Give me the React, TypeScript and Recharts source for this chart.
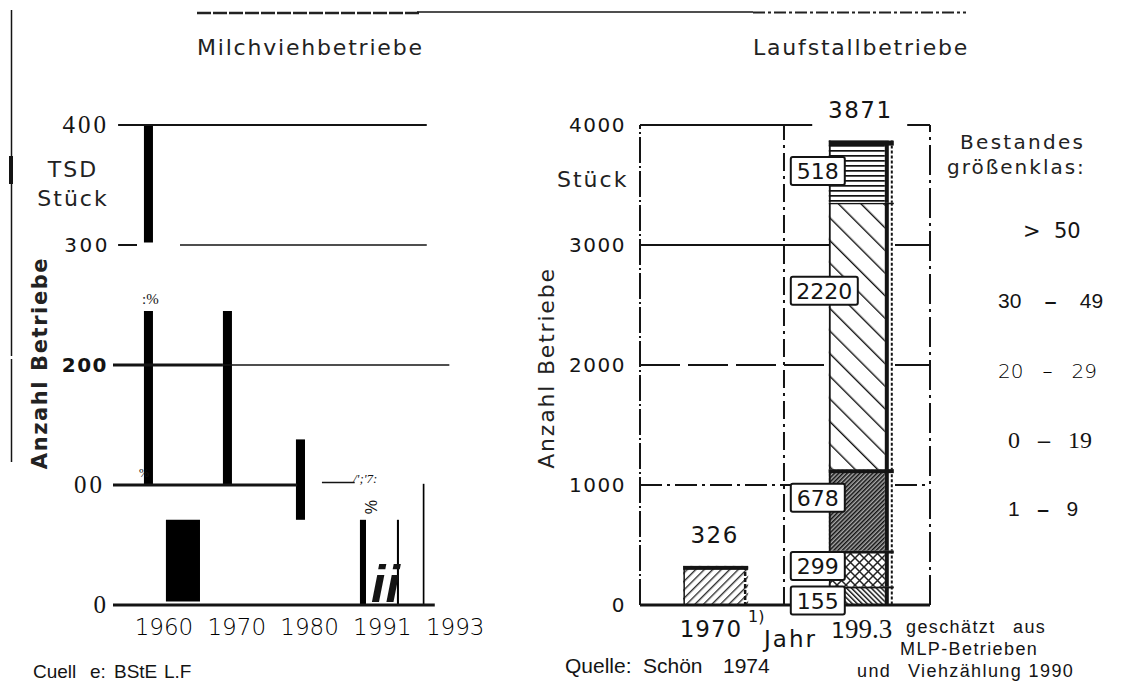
import React from 'react';
import { ComposedChart, Bar, XAxis, YAxis, ReferenceLine, ReferenceArea, LabelList } from 'recharts';

const W = 1129;
const H = 688;

// ---------------- Left chart: Milchviehbetriebe ----------------
const leftYTicks = [0, 100, 200, 300, 400];
const leftYLabels = ['0', '00', '200', '300', '400'];
const leftXTicks = [0, 1, 2, 3, 4];
const leftXLabels = ['1960', '1970', '1980', '1991', '1993'];
// blocks: slot range on x, Anzahl range on y
const leftBarFrom = [-0.275, -0.275, 0.81, 1.813, 0.027, 2.692, 3.2, 3.555];
const leftBarTo = [-0.151, -0.151, 0.934, 1.937, 0.495, 2.775, 3.228, 3.578];
const leftBarLow = [302, 100, 100, 71, 3, 0, 0, 0];
const leftBarHigh = [400, 245, 245, 138, 71, 71, 71, 101];
// grid segments
const leftGridValue = [400, 300, 300, 200, 200, 100, 102, 0];
const leftGridFrom = [-0.63, -0.63, 0.22, -0.7, 0.81, -0.7, 2.17, -0.7];
const leftGridTo = [3.61, -0.37, 3.61, 0.81, 3.92, 1.83, 2.62, 3.72];
const leftGridWidth = [2, 2, 1.5, 3, 1.5, 3, 1.5, 3];

// ---------------- Right chart: Laufstallbetriebe ----------------
const years = [1970, 1993];
const rightXLabels = ['1970', '199.3'];
const rightYTicks = [0, 1000, 2000, 3000, 4000];
const rightYLabels = ['0', '1000', '2000', '3000', '4000'];
const bestand1970 = 326;
const bestand1993 = [155, 299, 678, 2220, 518];
const total1993 = 3871;
const classKeys = ['s0', 's1', 's2', 's3', 's4'];
const legendLabels = ['> 50', '30 – 49', '20 – 29', '0 – 19', '1 – 9'];

const rightRows: any[] = [
  { year: years[0], b1970: bestand1970 },
  (() => {
    const r: any = { year: years[1], total: total1993 };
    classKeys.forEach((k, i) => (r[k] = bestand1993[i]));
    return r;
  })(),
];

const rightGridValue = [4000, 4000, 3000, 3000, 2000, 2000, 1000, 1000, 0];
const rightGridFrom = [1958, 2000.2, 1958, 1998.27, 1958, 1998.27, 1958, 1998.27, 1958];
const rightGridTo = [1985.2, 2003.8, 1987.85, 2003.8, 1987.85, 2003.8, 1982, 2003.8, 2003.8];
const rightGridDash = ['', '', '', '', '40 8', '40 8', '22 5 3 5', '22 5 3 5', ''];
const rightGridWidth = [2, 2, 2, 2, 2, 2, 1.8, 1.8, 3];
const rightVertX = [1958, 1980.74, 2003.8];
const rightVertDash = ['26 3 2 3', '18 5 3 5', '30 5 3 5'];

const segPatterns = ['pS1', 'pS2', 'pS3', 'pS4', 'pS5'];
const segTop = [2, 3, 4, 1.5, 5];
const boxCenterFrac = [0.76, 0.43, 0.35, 0.33, 0.49];

const PIX = 'DejaVu Sans';
const INK = '#141414';

function vbOf(p: any) {
  const vb = p && p.viewBox && typeof p.viewBox.x === 'number' ? p.viewBox : p;
  return vb;
}

function shape1970(p: any) {
  const { x, y, width, height } = p;
  if (!height || height <= 0 || isNaN(y)) return null;
  return (
    <g>
      <rect x={x} y={y} width={width} height={height} fill="url(#p1970)" />
      <line x1={x + 1} y1={y} x2={x + 1} y2={y + height} stroke={INK} strokeWidth={1.5} />
      <line x1={x + width - 3} y1={y} x2={x + width - 3} y2={y + height} stroke={INK} strokeWidth={2.5} strokeDasharray="4 2" />
      <rect x={x} y={y} width={width} height={4} fill={INK} />
    </g>
  );
}

function makeSegShape(i: number) {
  return (p: any) => {
    const { x, y, width, height } = p;
    if (!height || height <= 0 || isNaN(y)) return null;
    return (
      <g>
        <rect x={x} y={y} width={width - 9} height={height} fill={`url(#${segPatterns[i]})`} />
        <line x1={x + 1} y1={y} x2={x + 1} y2={y + height} stroke={INK} strokeWidth={1.8} />
        <rect x={x + width - 9} y={y} width={4} height={height} fill={INK} />
        <line x1={x + width - 2} y1={y} x2={x + width - 2} y2={y + height} stroke={INK} strokeWidth={2} strokeDasharray="3 2" />
        <rect x={x} y={y} width={width} height={segTop[i]} fill={INK} />
      </g>
    );
  };
}

function makeBoxLabel(i: number) {
  return (p: any) => {
    const vb = vbOf(p);
    const v = p.value;
    if (v == null || !vb || !vb.height) return null;
    const s = String(v);
    const bw = s.length * 13 + 15;
    const bh = 28;
    const bx = vb.x - 38;
    const cy = vb.y + vb.height * boxCenterFrac[i];
    return (
      <g>
        <rect x={bx} y={cy - bh / 2} width={bw} height={bh} fill="#fff" stroke={INK} strokeWidth={2} rx={2} />
        <text x={bx + bw / 2} y={cy + 8} textAnchor="middle" fontFamily={PIX} fontSize={22} fill={INK}>
          {s}
        </text>
      </g>
    );
  };
}

function topLabel(p: any) {
  const vb = vbOf(p);
  if (p.value == null || !vb || !vb.height) return null;
  return (
    <text x={vb.x + vb.width / 2 - 1} y={vb.y - 23} textAnchor="middle" fontFamily={PIX} fontSize={23} letterSpacing={1.5} fill={INK}>
      {p.value}
    </text>
  );
}

function LeftYTick(p: any) {
  const i = leftYTicks.indexOf(p.payload.value);
  const s = leftYLabels[i];
  const { x, y } = p;
  if (s === '200' || s === '300') {
    return (
      <text x={x - (s === '300' ? 3 : 5)} y={y + 7} textAnchor="end" fontFamily={PIX} fontWeight={s === '200' ? 'bold' : 'normal'} fontSize={20} letterSpacing={s === '200' ? 1.5 : 2.5} fill={INK}>
        {s}
      </text>
    );
  }
  return (
    <text x={x - (s === '00' ? 8 : 4)} y={y + 8} textAnchor="end" fontFamily="Liberation Serif" fontSize={25} letterSpacing={3} fill={INK}>
      {s}
    </text>
  );
}

function LeftXTick(p: any) {
  const i = leftXTicks.indexOf(p.payload.value);
  return (
    <text x={p.x} y={p.y + 30} textAnchor="middle" fontFamily={PIX} fontWeight={200} fontSize={23} fill="#000">
      {leftXLabels[i]}
    </text>
  );
}

function RightYTick(p: any) {
  const i = rightYTicks.indexOf(p.payload.value);
  return (
    <text x={p.x - 14} y={p.y + 7} textAnchor="end" fontFamily={PIX} fontSize={20} letterSpacing={1.5} fill={INK}>
      {rightYLabels[i]}
    </text>
  );
}

function RightXTick(p: any) {
  const i = years.indexOf(p.payload.value);
  const s = rightXLabels[i];
  if (i === 0) {
    return (
      <text x={p.x - 5} y={p.y + 32} textAnchor="middle" fontFamily={PIX} fontSize={23} letterSpacing={1} fill={INK}>
        {s}
      </text>
    );
  }
  return (
    <text x={p.x} y={p.y + 33} textAnchor="middle" fill={INK}>
      <tspan fontFamily={PIX} fontSize={22}>{s.slice(0, 1)}</tspan>
      <tspan fontFamily="Liberation Serif" fontSize={27}>{s.slice(1)}</tspan>
    </text>
  );
}

function Patterns() {
  return (
    <svg width={0} height={0} style={{ position: 'absolute' }}>
      <defs>
        <pattern id="p1970" width="6" height="6" patternUnits="userSpaceOnUse" patternTransform="rotate(45)">
          <rect width="6" height="6" fill="#fff" />
          <rect x="0" width="1.4" height="6" fill="#333" />
        </pattern>
        <pattern id="pS1" width="3.5" height="6" patternUnits="userSpaceOnUse" patternTransform="rotate(-45)">
          <rect width="3.5" height="6" fill="#fff" />
          <rect x="0" width="1.5" height="6" fill="#222" />
        </pattern>
        <pattern id="pS2" width="9" height="9" patternUnits="userSpaceOnUse">
          <rect width="9" height="9" fill="#fff" />
          <path d="M0 0 L9 9 M9 0 L0 9" stroke="#222" strokeWidth="1.5" />
        </pattern>
        <pattern id="pS3" width="3" height="6" patternUnits="userSpaceOnUse" patternTransform="rotate(45)">
          <rect width="3" height="6" fill="#aaa" />
          <rect x="0" width="1.5" height="6" fill="#111" />
        </pattern>
        <pattern id="pS4" width="16" height="16" patternUnits="userSpaceOnUse" patternTransform="rotate(-45)">
          <rect width="16" height="16" fill="#fff" />
          <rect x="0" width="1.4" height="16" fill="#111" />
        </pattern>
        <pattern id="pS5" width="10" height="5" patternUnits="userSpaceOnUse">
          <rect width="10" height="5" fill="#fff" />
          <rect y="0" width="10" height="1.7" fill="#111" />
        </pattern>
      </defs>
    </svg>
  );
}

function LeftChart() {
  const data = leftXTicks.map((t) => ({ pos: t }));
  return (
    <ComposedChart width={W} height={H} data={data} margin={{ top: 125, right: 652, bottom: 43, left: 53 }}>
      <XAxis dataKey="pos" type="number" domain={[-0.7, 4.3]} ticks={leftXTicks} interval={0} allowDataOverflow axisLine={false} tickLine={false} tickSize={0} tickMargin={0} height={40} tick={LeftXTick} />
      <YAxis type="number" domain={[0, 400]} ticks={leftYTicks} interval={0} allowDataOverflow axisLine={false} tickLine={false} tickSize={0} tickMargin={0} width={60} tick={LeftYTick} />
      {leftGridValue.map((v, i) => (
        <ReferenceLine key={'lg' + i} ifOverflow="visible" segment={[{ x: leftGridFrom[i], y: v }, { x: leftGridTo[i], y: v }]} stroke={INK} strokeWidth={leftGridWidth[i]} />
      ))}
      {leftBarLow.map((lo, i) => (
        <ReferenceArea key={'lb' + i} ifOverflow="visible" x1={leftBarFrom[i]} x2={leftBarTo[i]} y1={lo} y2={leftBarHigh[i]} fill="#000" fillOpacity={1} stroke="none" />
      ))}
    </ComposedChart>
  );
}

function RightChart() {
  return (
    <ComposedChart width={W} height={H} data={rightRows} margin={{ top: 125, right: 199, bottom: 43, left: 580 }}>
      <XAxis dataKey="year" type="number" domain={[1958, 2003.8]} ticks={years} interval={0} allowDataOverflow axisLine={false} tickLine={false} tickSize={0} tickMargin={0} height={40} tick={RightXTick} />
      <YAxis type="number" domain={[0, 4000]} ticks={rightYTicks} interval={0} allowDataOverflow axisLine={false} tickLine={false} tickSize={0} tickMargin={0} width={60} tick={RightYTick} />
      {rightGridValue.map((v, i) => (
        <ReferenceLine key={'rg' + i} ifOverflow="visible" segment={[{ x: rightGridFrom[i], y: v }, { x: rightGridTo[i], y: v }]} stroke={INK} strokeWidth={rightGridWidth[i]} strokeDasharray={rightGridDash[i] || undefined} />
      ))}
      {rightVertX.map((xv, i) => (
        <ReferenceLine key={'rv' + i} ifOverflow="visible" segment={[{ x: xv, y: 0 }, { x: xv, y: 4000 }]} stroke={INK} strokeWidth={2} strokeDasharray={rightVertDash[i]} />
      ))}
      <Bar dataKey="b1970" stackId="a" barSize={65} isAnimationActive={false} shape={shape1970}>
        <LabelList dataKey="b1970" content={topLabel} />
      </Bar>
      {classKeys.map((k, i) => (
        <Bar key={k} dataKey={k} stackId="a" barSize={65} isAnimationActive={false} shape={makeSegShape(i)}>
          <LabelList dataKey={k} content={makeBoxLabel(i)} />
          {i === classKeys.length - 1 ? <LabelList dataKey="total" content={topLabel} /> : null}
        </Bar>
      ))}
    </ComposedChart>
  );
}

function Overlay() {
  const sans = 'Liberation Sans';
  return (
    <svg width={W} height={H} style={{ position: 'absolute', left: 0, top: 0, pointerEvents: 'none' }}>
      {/* page frame remnants */}
      <line x1={197} y1={13} x2={420} y2={13} stroke="#222" strokeWidth={2.5} strokeDasharray="14 2" />
      <line x1={417} y1={12} x2={753} y2={12} stroke={INK} strokeWidth={1.6} />
      <line x1={753} y1={12.5} x2={966} y2={12.5} stroke="#222" strokeWidth={2} strokeDasharray="12 3 3 3" />
      <line x1={11.5} y1={10} x2={11.5} y2={356} stroke={INK} strokeWidth={1.5} />
      <line x1={11.5} y1={359} x2={11.5} y2={462} stroke={INK} strokeWidth={1.5} />
      <rect x={9} y={156} width={4} height={28} fill={INK} />

      {/* left chart texts */}
      <text x={197} y={55} fontFamily={PIX} fontSize={22} letterSpacing={1.8} fill="#222">Milchviehbetriebe</text>
      <text x={73} y={177} textAnchor="middle" fontFamily={PIX} fontSize={22} letterSpacing={2} fill="#222">TSD</text>
      <text x={73} y={206} textAnchor="middle" fontFamily={PIX} fontSize={22} letterSpacing={2} fill="#222">Stück</text>
      <text transform="translate(40,363) rotate(-90)" textAnchor="middle" dominantBaseline="central" fontFamily={PIX} fontWeight="bold" fontSize={21} letterSpacing={1.6} fill="#222">Anzahl Betriebe</text>
      <text x={142} y={304} fontFamily="Liberation Serif" fontSize={15} fill={INK}>:%</text>
      <text x={139} y={477} fontFamily="Liberation Serif" fontSize={12} fill={INK}>%</text>
      <text x={353} y={483} fontFamily="Liberation Serif" fontStyle="italic" fontSize={13} fill={INK}>/';'7:</text>
      <text transform="translate(370,507) rotate(90)" textAnchor="middle" dominantBaseline="central" fontFamily={sans} fontSize={16} fill={INK}>%</text>
      <text x={371} y={602} fontFamily={sans} fontStyle="italic" fontWeight="bold" fontSize={52} fill={INK}>ii</text>
      <text y={678} fontFamily={sans} fontSize={19} fill={INK}>
        <tspan x={33}>Cuell</tspan>
        <tspan x={90}>e:</tspan>
        <tspan x={114}>BStE</tspan>
        <tspan x={164}>L.F</tspan>
      </text>

      {/* right chart texts */}
      <text x={753} y={55} fontFamily={PIX} fontSize={22} letterSpacing={1.8} fill="#222">Laufstallbetriebe</text>
      <text x={557} y={187} fontFamily={PIX} fontSize={22} letterSpacing={2} fill="#222">Stück</text>
      <text transform="translate(546,368) rotate(-90)" textAnchor="middle" dominantBaseline="central" fontFamily={PIX} fontSize={22} letterSpacing={1.8} fill="#222">Anzahl Betriebe</text>
      <text x={748} y={622} fontFamily={PIX} fontSize={16} fill={INK}>1)</text>
      <text x={764} y={647} fontFamily={PIX} fontSize={23} letterSpacing={2} fill={INK}>Jahr</text>

      <text x={960} y={149} fontFamily={PIX} fontSize={20} letterSpacing={2.3} fill="#222">Bestandes</text>
      <text x={947} y={174} fontFamily={PIX} fontSize={20} letterSpacing={2} fill="#222">größenklas:</text>
      <text x={1023} y={238} fontFamily={PIX} fontSize={21} fill={INK} style={{ whiteSpace: 'pre' }}>{legendLabels[0].replace(' ', '  ')}</text>
      <text x={998} y={308} fontFamily={sans} fontSize={21} fill={INK} style={{ whiteSpace: 'pre' }}>
        {legendLabels[1].split(' – ')[0]}
        <tspan fontWeight="bold">{'    –    '}</tspan>
        {legendLabels[1].split(' – ')[1]}
      </text>
      <text x={998} y={378} fontFamily={PIX} fontWeight={300} fontSize={20} fill="#000" style={{ whiteSpace: 'pre' }}>
        {legendLabels[2].replace(' – ', '   –   ')}
      </text>
      <text x={1008} y={448} fontFamily="Liberation Serif" fontSize={24} fill={INK} style={{ whiteSpace: 'pre' }}>
        {legendLabels[3].split(' – ')[0]}
        <tspan fontWeight="bold">{'   –   '}</tspan>
        {legendLabels[3].split(' – ')[1]}
      </text>
      <text x={1008} y={516} fontFamily={sans} fontSize={21} fill={INK} style={{ whiteSpace: 'pre' }}>
        {legendLabels[4].split(' – ')[0]}
        <tspan fontWeight="bold">{'   –   '}</tspan>
        {legendLabels[4].split(' – ')[1]}
      </text>

      <text y={633} fontFamily={sans} fontSize={18} letterSpacing={1.4} fill={INK}>
        <tspan x={906}>geschätzt</tspan>
        <tspan x={1013}>aus</tspan>
      </text>
      <text x={900} y={655} fontFamily={sans} fontSize={18} letterSpacing={1.4} fill={INK}>MLP-Betrieben</text>
      <text y={677} fontFamily={sans} fontSize={18} letterSpacing={1.4} fill={INK}>
        <tspan x={857}>und</tspan>
        <tspan x={908}>Viehzählung 1990</tspan>
      </text>
      <text y={673} fontFamily={sans} fontSize={21} fill={INK}>
        <tspan x={565}>Quelle:</tspan>
        <tspan x={643}>Schön</tspan>
        <tspan x={723}>1974</tspan>
      </text>
    </svg>
  );
}

export default function App() {
  return (
    <div style={{ position: 'absolute', left: 0, top: 0, width: W, height: H, background: '#fff', overflow: 'hidden' }}>
      <Patterns />
      <div style={{ position: 'absolute', left: 0, top: 0 }}>
        <LeftChart />
      </div>
      <div style={{ position: 'absolute', left: 0, top: 0 }}>
        <RightChart />
      </div>
      <Overlay />
    </div>
  );
}
